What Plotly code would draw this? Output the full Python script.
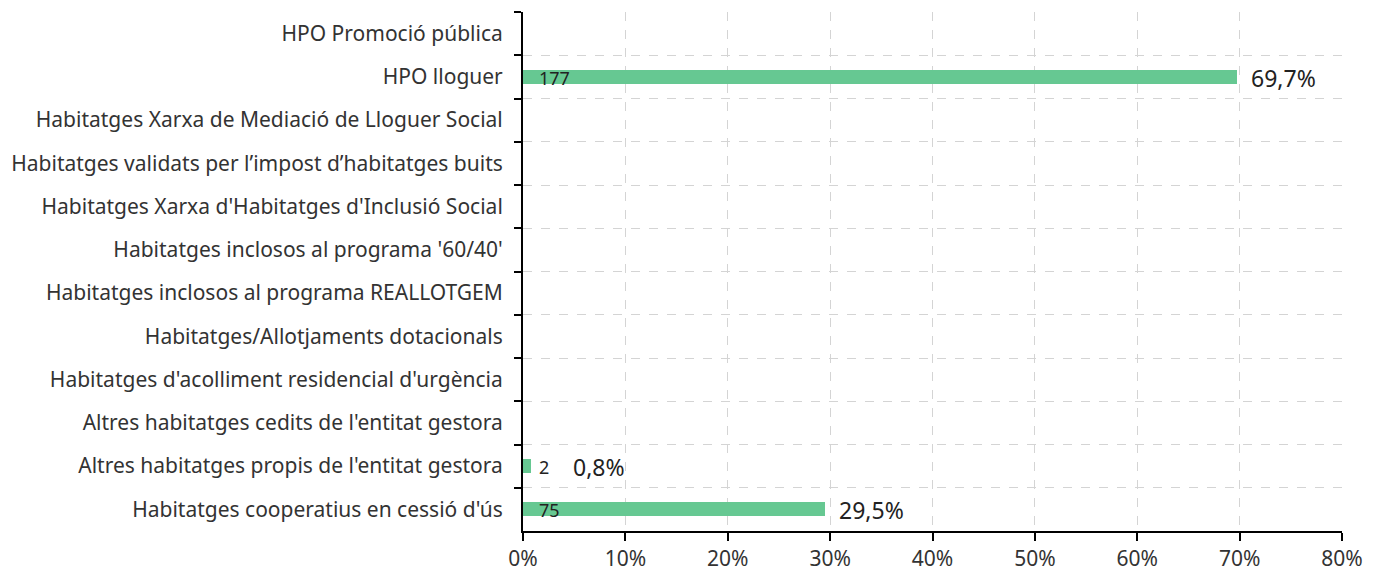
import plotly.graph_objects as go

categories = [
    "HPO Promoció pública",
    "HPO lloguer",
    "Habitatges Xarxa de Mediació de Lloguer Social",
    "Habitatges validats per l’impost d’habitatges buits",
    "Habitatges Xarxa d'Habitatges d'Inclusió Social",
    "Habitatges inclosos al programa '60/40'",
    "Habitatges inclosos al programa REALLOTGEM",
    "Habitatges/Allotjaments dotacionals",
    "Habitatges d'acolliment residencial d'urgència",
    "Altres habitatges cedits de l'entitat gestora",
    "Altres habitatges propis de l'entitat gestora",
    "Habitatges cooperatius en cessió d'ús",
]
counts = [0, 177, 0, 0, 0, 0, 0, 0, 0, 0, 2, 75]
percents = [0, 69.7, 0, 0, 0, 0, 0, 0, 0, 0, 0.8, 29.5]
pct_labels = ["", "69,7%", "", "", "", "", "", "", "", "", "0,8%", "29,5%"]
x_ticks = [0, 10, 20, 30, 40, 50, 60, 70, 80]

FONT = "Noto Sans, Roboto, sans-serif"
BAR = "#66C892"

fig = go.Figure()
fig.add_trace(go.Bar(
    y=categories, x=percents, orientation="h",
    marker=dict(color=BAR, line=dict(width=0)),
    width=0.32, hoverinfo="skip", showlegend=False,
))

for cat, c, p, lab in zip(categories, counts, percents, pct_labels):
    if c > 0:
        fig.add_annotation(x=0, y=cat, xref="x", yref="y", text=str(c),
                           showarrow=False, xanchor="left", xshift=14, yshift=-1,
                           font=dict(family=FONT, size=18, color="#222"))
    if lab:
        shift = 40 if p < 5 else 12
        fig.add_annotation(x=p, y=cat, xref="x", yref="y", text=lab,
                           showarrow=False, xanchor="left", xshift=shift, yshift=-1,
                           font=dict(family=FONT, size=23, color="#222"))

fig.update_layout(
    width=1379, height=579,
    margin=dict(l=515, r=45, t=4, b=56),
    plot_bgcolor="white", paper_bgcolor="white",
    font=dict(family=FONT, size=21, color="#333"),
    bargap=0,
)
fig.update_xaxes(
    range=[0, 80], tickvals=x_ticks, ticktext=[f"{t}%" for t in x_ticks],
    showline=True, linecolor="black", linewidth=2,
    ticks="outside", ticklen=8, tickwidth=2, tickcolor="black",
    showgrid=True, gridcolor="#d4d4d4", griddash="dash", gridwidth=1,
    zeroline=False, tickfont=dict(size=21, color="#333"),
)
fig.update_yaxes(
    type="category", autorange="reversed", tickson="boundaries",
    showline=True, linecolor="black", linewidth=2,
    ticks="outside", ticklen=7, tickwidth=2, tickcolor="black",
    showgrid=True, gridcolor="#d4d4d4", griddash="dash", gridwidth=1,
    tickfont=dict(size=21, color="#333"), ticklabelstandoff=14,
)

fig.write_html("out.html")
